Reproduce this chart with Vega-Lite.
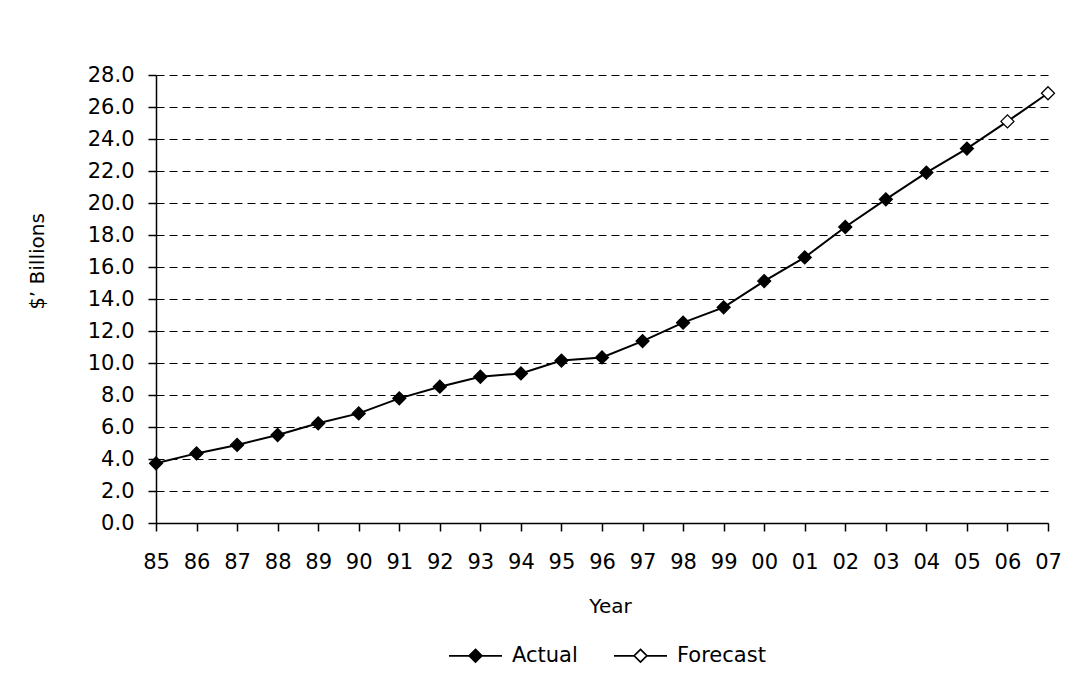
{
  "$schema": "https://vega.github.io/schema/vega-lite/v6.json",
  "width": 892,
  "height": 448,
  "autosize": {"type": "none"},
  "padding": {"left": 156, "top": 75, "right": 41, "bottom": 156},
  "background": "white",
  "config": {
    "view": {"stroke": null},
    "font": "DejaVu Sans",
    "axis": {
      "labelFont": "DejaVu Sans",
      "labelFontSize": 21,
      "labelColor": "black",
      "titleFont": "DejaVu Sans",
      "titleFontSize": 20,
      "titleFontWeight": "normal",
      "titleColor": "black",
      "domainColor": "black",
      "domainWidth": 1.5,
      "tickColor": "black",
      "tickWidth": 1.5,
      "tickSize": 8
    }
  },
  "data": {
    "values": [
      {"Year": "85", "Value": 3.73, "Type": "Actual"},
      {"Year": "86", "Value": 4.35, "Type": "Actual"},
      {"Year": "87", "Value": 4.88, "Type": "Actual"},
      {"Year": "88", "Value": 5.5, "Type": "Actual"},
      {"Year": "89", "Value": 6.23, "Type": "Actual"},
      {"Year": "90", "Value": 6.85, "Type": "Actual"},
      {"Year": "91", "Value": 7.79, "Type": "Actual"},
      {"Year": "92", "Value": 8.52, "Type": "Actual"},
      {"Year": "93", "Value": 9.14, "Type": "Actual"},
      {"Year": "94", "Value": 9.35, "Type": "Actual"},
      {"Year": "95", "Value": 10.15, "Type": "Actual"},
      {"Year": "96", "Value": 10.35, "Type": "Actual"},
      {"Year": "97", "Value": 11.37, "Type": "Actual"},
      {"Year": "98", "Value": 12.52, "Type": "Actual"},
      {"Year": "99", "Value": 13.48, "Type": "Actual"},
      {"Year": "00", "Value": 15.12, "Type": "Actual"},
      {"Year": "01", "Value": 16.6, "Type": "Actual"},
      {"Year": "02", "Value": 18.5, "Type": "Actual"},
      {"Year": "03", "Value": 20.23, "Type": "Actual"},
      {"Year": "04", "Value": 21.9, "Type": "Actual"},
      {"Year": "05", "Value": 23.4, "Type": "Actual"},
      {"Year": "06", "Value": 25.1, "Type": "Forecast"},
      {"Year": "07", "Value": 26.86, "Type": "Forecast"}
    ]
  },
  "encoding": {
    "x": {
      "field": "Year",
      "type": "ordinal",
      "sort": null,
      "scale": {"type": "point", "padding": 0},
      "axis": {
        "title": "Year",
        "labelAngle": 0,
        "labelPadding": 20,
        "grid": false,
        "titleX": 454,
        "titleY": 89,
        "titleAlign": "center",
        "titleBaseline": "alphabetic"
      }
    },
    "y": {
      "field": "Value",
      "type": "quantitative",
      "scale": {"domain": [0, 28], "nice": false},
      "axis": {
        "title": "$’ Billions",
        "values": [0, 2, 4, 6, 8, 10, 12, 14, 16, 18, 20, 22, 24, 26, 28],
        "format": ".1f",
        "labelPadding": 14,
        "grid": true,
        "gridColor": "black",
        "gridWidth": 1,
        "gridDash": [8, 5],
        "titleAngle": 270,
        "titleX": -119,
        "titleY": 186,
        "titleAlign": "center",
        "titleBaseline": "middle"
      }
    }
  },
  "layer": [
    {
      "mark": {"type": "line", "color": "black", "strokeWidth": 2}
    },
    {
      "mark": {
        "type": "point",
        "shape": "diamond",
        "filled": true,
        "size": 170,
        "stroke": "black",
        "strokeWidth": 1.25,
        "opacity": 1
      },
      "encoding": {
        "fill": {
          "field": "Type",
          "type": "nominal",
          "scale": {"domain": ["Actual", "Forecast"], "range": ["black", "white"]},
          "legend": {
            "title": null,
            "orient": "none",
            "direction": "horizontal",
            "legendX": 292,
            "legendY": 553,
            "padding": 0,
            "symbolType": "M-1,0L-0.24,0M0.24,0L1,0M0,-0.24L0.24,0L0,0.24L-0.24,0Z",
            "symbolSize": 2809,
            "symbolStrokeColor": "black",
            "symbolStrokeWidth": 1.75,
            "labelFont": "DejaVu Sans",
            "labelFontSize": 21,
            "labelColor": "black",
            "labelOffset": 9,
            "columnPadding": 32
          }
        }
      }
    }
  ]
}
